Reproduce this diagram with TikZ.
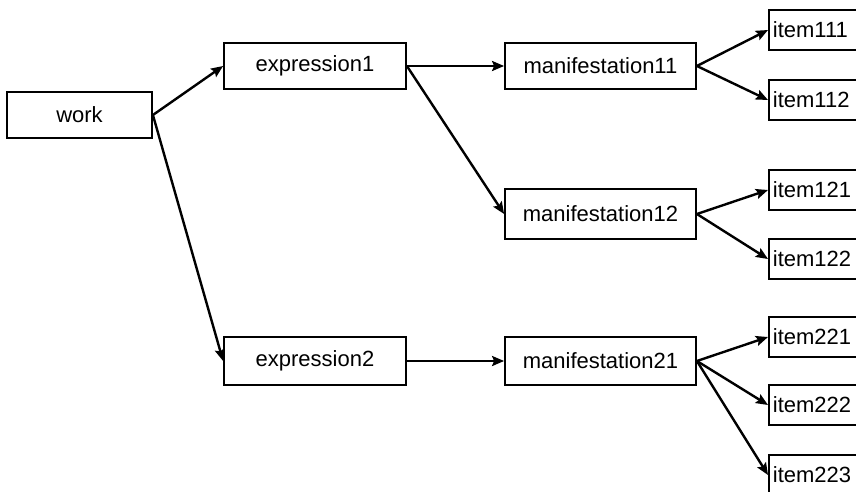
\documentclass[tikz,border=0pt]{standalone}
\usepackage{fontspec}
\setmainfont{Liberation Sans}
\usetikzlibrary{arrows.meta}
\tikzset{
  box/.style={draw,line width=0.9pt,minimum height=23pt,inner sep=0pt,
    font=\fontsize{11}{13}\selectfont},
  itembox/.style={box,anchor=west,minimum height=20pt,text width=46pt,
    inner xsep=2pt,align=left},
  link/.style={line width=1.2pt,-{Stealth[length=6pt,width=5pt,inset=1pt]}}
}

\begin{document}
\begin{tikzpicture}[x=0.5pt,y=-0.5pt]
    \useasboundingbox (0,0) rectangle (856,492);
    \clip (0,0) rectangle (856,492);
    % work, expressions, manifestations
    \node[box,minimum width=72.5pt] (work) at (79.5,115) {work};
    \node[box,minimum width=91pt] (expr1) at (315,66) {expression1};
    \node[box,minimum width=91pt,minimum height=24pt] (expr2) at (315,361) {expression2};
    \node[box,minimum width=95.5pt] (man11) at (600.5,66) {manifestation11};
    \node[box,minimum width=95.5pt,minimum height=25pt] (man12) at (600.5,214) {manifestation12};
    \node[box,minimum width=95.5pt,minimum height=24pt] (man21) at (600.5,361) {manifestation21};
    % items run off the right edge
    \foreach \id/\y in {111/30,112/100,121/190,122/259,221/337,222/405,223/475}
      \node[itembox] (item\id) at (768,\y) {item\id};
    \draw[link] (work.east) -- (expr1.west);
    \draw[link] (work.east) -- (expr2.west);
    \draw[link] (expr1.east) -- (man11.west);
    \draw[link] (expr1.east) -- (man12.west);
    \draw[link] (expr2.east) -- (man21.west);
    \foreach \m/\i in {man11/item111,man11/item112,man12/item121,man12/item122,
      man21/item221,man21/item222,man21/item223}
      \draw[link] (\m.east) -- (\i.west);
\end{tikzpicture}
\end{document}
